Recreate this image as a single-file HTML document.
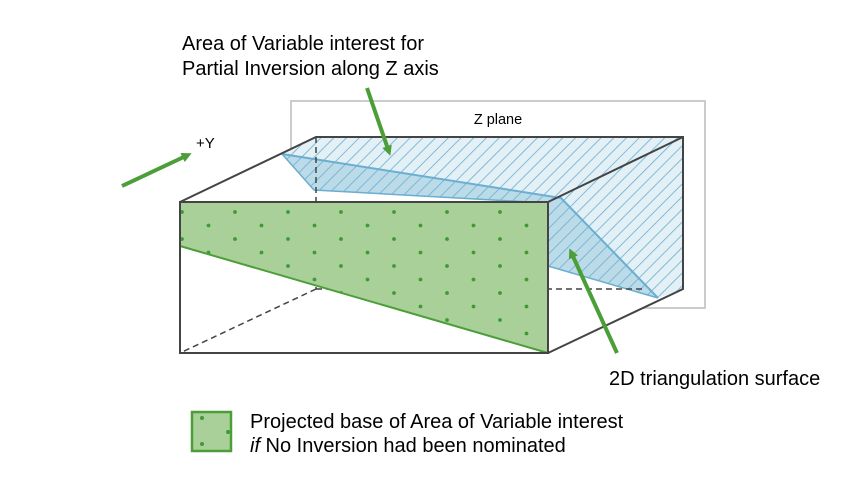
<!DOCTYPE html>
<html><head><style>
body{margin:0;background:#fff;}
svg{display:block;font-family:"Liberation Sans",Arial,sans-serif;}
</style></head><body>
<svg width="850" height="478" viewBox="0 0 850 478" xmlns="http://www.w3.org/2000/svg">
<defs>
<pattern id="hatch" patternUnits="userSpaceOnUse" width="9" height="9" patternTransform="rotate(45)">
<line x1="0" y1="0" x2="0" y2="9" stroke="#6aaed0" stroke-width="1.6"/>
</pattern>
<pattern id="dots" patternUnits="userSpaceOnUse" x="169" y="199" width="53" height="27">
<circle cx="13" cy="13" r="1.9" fill="#3f9a35"/>
</pattern>
<pattern id="dots2" patternUnits="userSpaceOnUse" x="195.5" y="212.5" width="53" height="27">
<circle cx="13" cy="13" r="1.9" fill="#3f9a35"/>
</pattern>
<marker id="ah" markerWidth="10" markerHeight="10" refX="6" refY="5" orient="auto" markerUnits="userSpaceOnUse">
<path d="M0,0 L10,5 L0,10 z" fill="#4c9f38"/>
</marker>
</defs>
<rect x="291" y="101" width="414" height="207" fill="none" stroke="#cccccc" stroke-width="2"/>
<text x="498" y="124" font-size="14.5" text-anchor="middle" fill="#000">Z plane</text>
<polygon points="180,202 316,137 683,137 683,289 548,353 180,353" fill="#fff"/>
<polygon points="282,154 316,137 683,137 683,289 658,298 548,266 548,203 314,190" fill="#e3f0f6"/>
<polygon points="282,154 561,198 658,298 548,266 548,203 314,190" fill="#bcdbe9"/>
<polygon points="282,154 316,137 683,137 683,289 658,298 548,266 548,203 314,190" fill="url(#hatch)"/>
<polyline points="282,154 561,198 658,298" fill="none" stroke="#6aaed0" stroke-width="2"/>
<polyline points="282,154 314,190 548,203" fill="none" stroke="#6aaed0" stroke-width="1.5"/>
<line x1="548" y1="266" x2="658" y2="298" stroke="#6aaed0" stroke-width="1.5"/>
<g stroke="#444" stroke-width="1.5" stroke-dasharray="6,4" fill="none">
<line x1="316" y1="137" x2="316" y2="289"/>
<line x1="316" y1="289" x2="180" y2="353"/>
<line x1="316" y1="289" x2="645" y2="289"/>
</g>
<polygon points="180,202 548,202 548,353 180,246" fill="#a8d098"/>
<polygon points="180,202 548,202 548,353 180,246" fill="url(#dots)"/>
<polygon points="180,202 548,202 548,353 180,246" fill="url(#dots2)"/>
<line x1="180" y1="246" x2="548" y2="353" stroke="#4c9f38" stroke-width="2"/>
<g stroke="#444" stroke-width="2" fill="none">
<rect x="180" y="202" width="368" height="151"/>
<polyline points="180,202 316,137 683,137 683,289 548,353"/>
<line x1="548" y1="202" x2="683" y2="137"/>
</g>
<g stroke="#4c9f38" stroke-width="4" fill="none">
<line x1="367" y1="88" x2="389" y2="152" marker-end="url(#ah)"/>
<line x1="122" y1="186" x2="188" y2="155" marker-end="url(#ah)"/>
<line x1="617" y1="353" x2="571" y2="252" marker-end="url(#ah)"/>
</g>
<g font-size="20" fill="#000">
<text x="182" y="50">Area of Variable interest for</text>
<text x="182" y="75">Partial Inversion along Z axis</text>
<text x="196" y="148" font-size="15">+Y</text>
<text x="609" y="385">2D triangulation surface</text>
<text x="250" y="428">Projected base of Area of Variable interest</text>
<text x="250" y="452"><tspan font-style="italic">if</tspan> No Inversion had been nominated</text>
</g>
<rect x="192" y="412" width="39" height="39" fill="#a8d098" stroke="#4c9f38" stroke-width="2.5"/>
<circle cx="202" cy="418" r="2" fill="#3f9a35"/>
<circle cx="228" cy="432" r="2" fill="#3f9a35"/>
<circle cx="202" cy="444" r="2" fill="#3f9a35"/>
</svg>
</body></html>
